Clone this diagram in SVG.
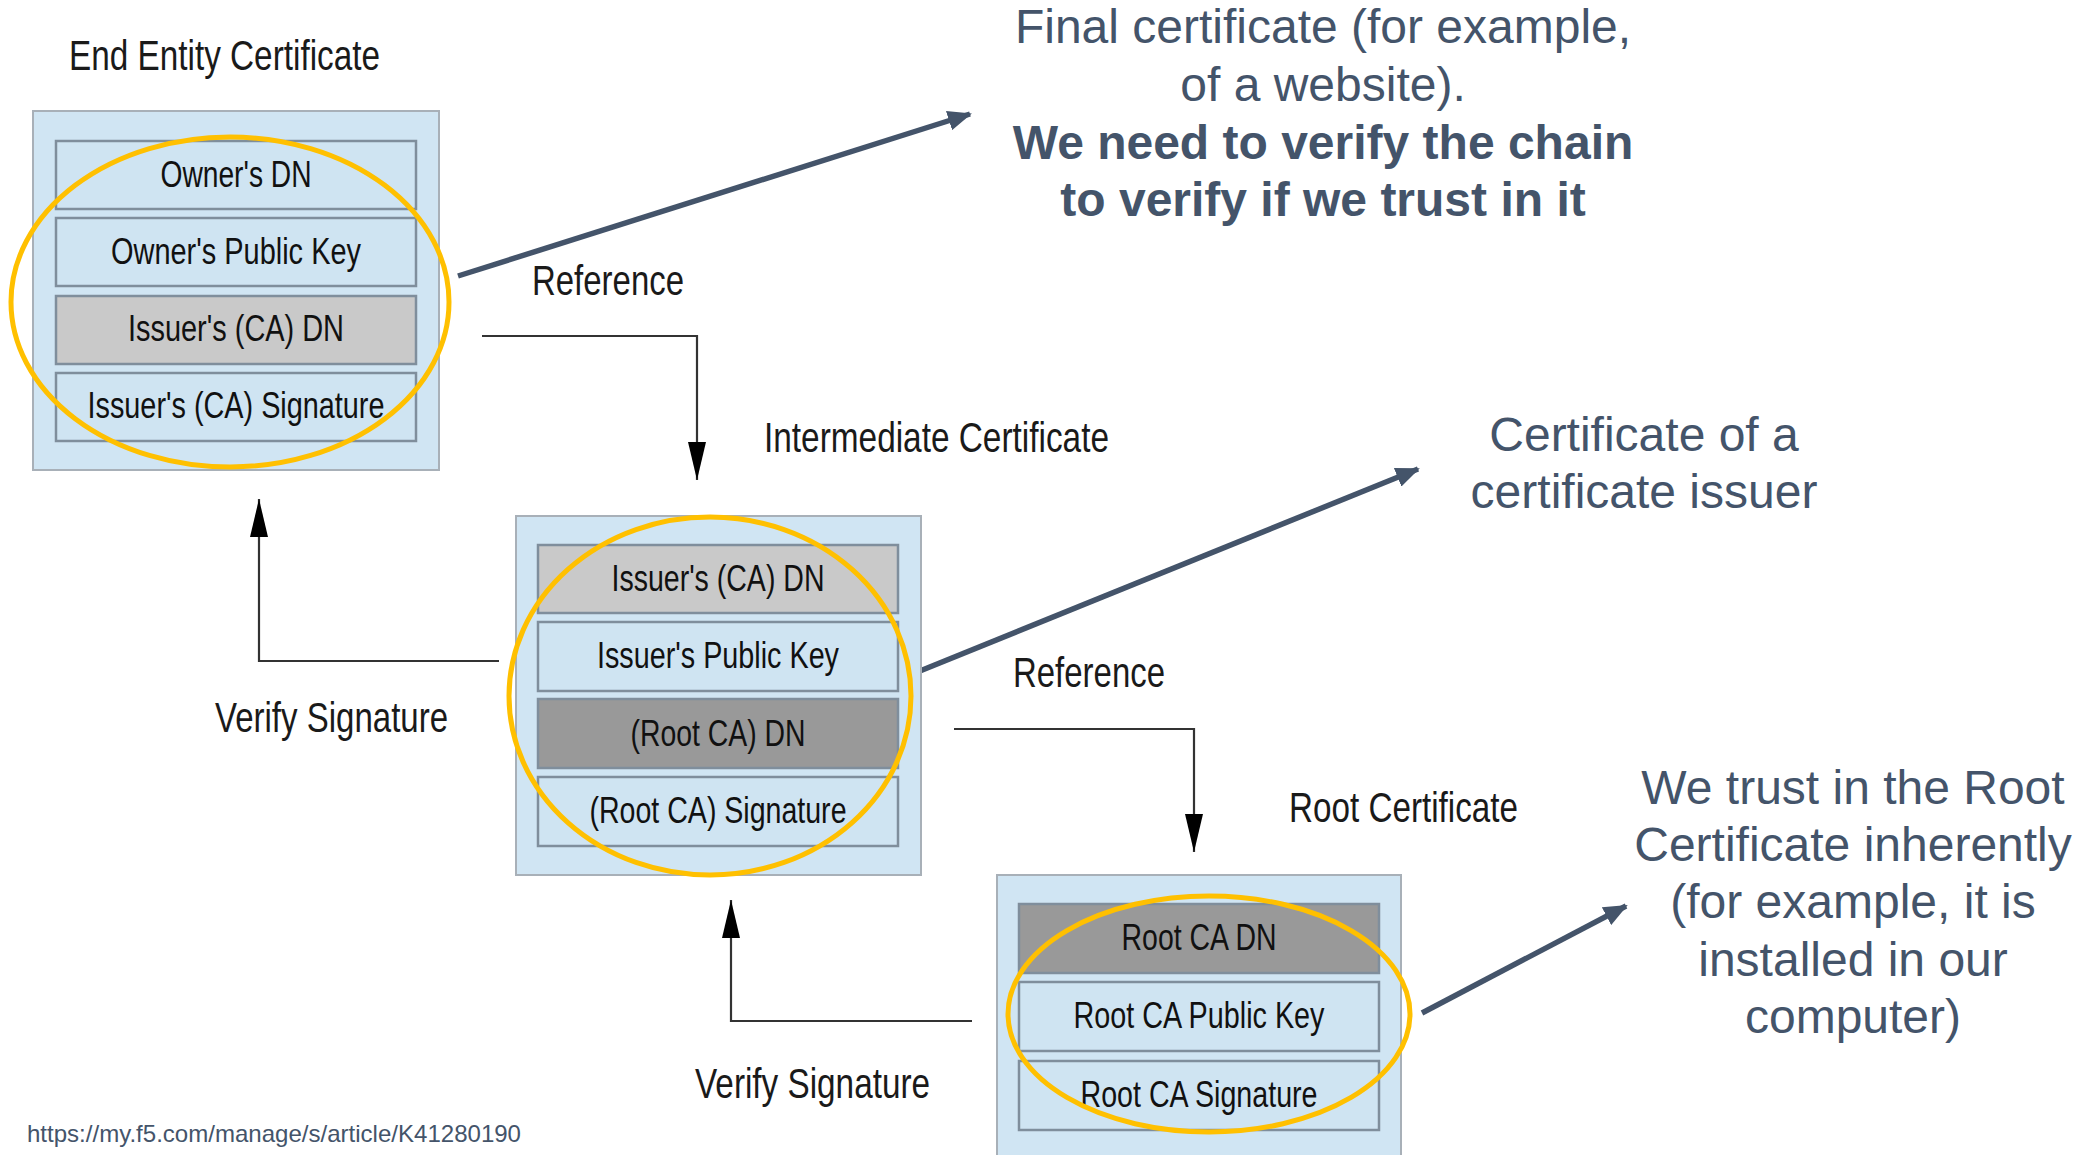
<svg xmlns="http://www.w3.org/2000/svg" width="2080" height="1155" viewBox="0 0 2080 1155">
<defs>
<style>
.bg{fill:#ffffff}
.outer{fill:#D0E5F3;stroke:#A8B0B8;stroke-width:2}
.row{stroke:#7F8E9C;stroke-width:2.5}
.lb{fill:#CFE4F2}
.lg{fill:#C9C9C9}
.dg{fill:#999999}
.hl{fill:none;stroke:#FFC000;stroke-width:5}
.rt{font-family:"Liberation Sans",Arial,sans-serif;font-size:36px;fill:#111111;text-anchor:middle}
.lab{font-family:"Liberation Sans",Arial,sans-serif;font-size:43px;fill:#1a1a1a}
.conn{fill:none;stroke:#333333;stroke-width:2.2}
.call{fill:none;stroke:#44546A;stroke-width:5.5}
.note{font-family:"Liberation Sans",Arial,sans-serif;font-size:48px;fill:#44546A;text-anchor:middle}
.b{font-weight:bold}
.url{font-family:"Liberation Sans",Arial,sans-serif;font-size:24px;fill:#44546A}
</style>
<marker id="blk" viewBox="0 0 38 18" refX="38" refY="9" markerWidth="38" markerHeight="18" markerUnits="userSpaceOnUse" orient="auto">
<path d="M0,0 L38,9 L0,18 Z" fill="#000000"/>
</marker>
<marker id="sl" viewBox="0 0 24 20" refX="22" refY="10" markerWidth="24" markerHeight="20" markerUnits="userSpaceOnUse" orient="auto">
<path d="M0,0 L24,10 L0,20 Z" fill="#44546A"/>
</marker>
</defs>
<rect class="bg" x="0" y="0" width="2080" height="1155"/>

<g id="connectors">
<polyline class="conn" points="482,336 697,336 697,480" marker-end="url(#blk)"/>
<polyline class="conn" points="954,729 1194,729 1194,852" marker-end="url(#blk)"/>
<polyline class="conn" points="499,661 259,661 259,499" marker-end="url(#blk)"/>
<polyline class="conn" points="972,1021 731,1021 731,900" marker-end="url(#blk)"/>
<line class="call" x1="458" y1="276" x2="970" y2="114" marker-end="url(#sl)"/>
<line class="call" x1="910" y1="675" x2="1418" y2="469" marker-end="url(#sl)"/>
<line class="call" x1="1422" y1="1013" x2="1626" y2="906" marker-end="url(#sl)"/>
</g>

<g id="labels">
<text class="lab" x="69" y="70" textLength="311" lengthAdjust="spacingAndGlyphs">End Entity Certificate</text>
<text class="lab" x="532" y="295" textLength="152" lengthAdjust="spacingAndGlyphs">Reference</text>
<text class="lab" x="764" y="452" textLength="345" lengthAdjust="spacingAndGlyphs">Intermediate Certificate</text>
<text class="lab" x="1013" y="687" textLength="152" lengthAdjust="spacingAndGlyphs">Reference</text>
<text class="lab" x="1289" y="822" textLength="229" lengthAdjust="spacingAndGlyphs">Root Certificate</text>
<text class="lab" x="215" y="732" textLength="233" lengthAdjust="spacingAndGlyphs">Verify Signature</text>
<text class="lab" x="695" y="1098" textLength="235" lengthAdjust="spacingAndGlyphs">Verify Signature</text>
</g>

<g id="end-entity-certificate">
<rect class="outer" x="33" y="111" width="406" height="359"/>
<rect class="row lb" x="56" y="141" width="360" height="68"/>
<rect class="row lb" x="56" y="218" width="360" height="68"/>
<rect class="row lg" x="56" y="296" width="360" height="68"/>
<rect class="row lb" x="56" y="373" width="360" height="68"/>
<text class="rt" x="236" y="187" textLength="151" lengthAdjust="spacingAndGlyphs">Owner's DN</text>
<text class="rt" x="236" y="264" textLength="250" lengthAdjust="spacingAndGlyphs">Owner's Public Key</text>
<text class="rt" x="236" y="341" textLength="216" lengthAdjust="spacingAndGlyphs">Issuer's (CA) DN</text>
<text class="rt" x="236" y="418" textLength="297" lengthAdjust="spacingAndGlyphs">Issuer's (CA) Signature</text>
<ellipse class="hl" cx="230" cy="302" rx="219" ry="165"/>
</g>

<g id="intermediate-certificate">
<rect class="outer" x="516" y="516" width="405" height="359"/>
<rect class="row lg" x="538" y="545" width="360" height="68"/>
<rect class="row lb" x="538" y="622" width="360" height="69"/>
<rect class="row dg" x="538" y="699" width="360" height="69"/>
<rect class="row lb" x="538" y="777" width="360" height="69"/>
<text class="rt" x="718" y="591" textLength="213" lengthAdjust="spacingAndGlyphs">Issuer's (CA) DN</text>
<text class="rt" x="718" y="668" textLength="242" lengthAdjust="spacingAndGlyphs">Issuer's Public Key</text>
<text class="rt" x="718" y="746" textLength="175" lengthAdjust="spacingAndGlyphs">(Root CA) DN</text>
<text class="rt" x="718" y="823" textLength="257" lengthAdjust="spacingAndGlyphs">(Root CA) Signature</text>
<ellipse class="hl" cx="710" cy="696" rx="201" ry="179"/>
</g>

<g id="root-certificate">
<rect class="outer" x="997" y="875" width="404" height="290"/>
<rect class="row dg" x="1019" y="904" width="360" height="69"/>
<rect class="row lb" x="1019" y="982" width="360" height="69"/>
<rect class="row lb" x="1019" y="1061" width="360" height="69"/>
<text class="rt" x="1199" y="950" textLength="155" lengthAdjust="spacingAndGlyphs">Root CA DN</text>
<text class="rt" x="1199" y="1028" textLength="251" lengthAdjust="spacingAndGlyphs">Root CA Public Key</text>
<text class="rt" x="1199" y="1107" textLength="237" lengthAdjust="spacingAndGlyphs">Root CA Signature</text>
<ellipse class="hl" cx="1209" cy="1014" rx="201" ry="118"/>
</g>

<g id="note-final">
<text class="note" x="1323" y="43">Final certificate (for example,</text>
<text class="note" x="1323" y="101">of a website).</text>
<text class="note b" x="1323" y="159">We need to verify the chain</text>
<text class="note b" x="1323" y="216">to verify if we trust in it</text>
</g>

<g id="note-issuer">
<text class="note" x="1644" y="451">Certificate of a</text>
<text class="note" x="1644" y="508">certificate issuer</text>
</g>

<g id="note-root">
<text class="note" x="1853" y="804">We trust in the Root</text>
<text class="note" x="1853" y="861">Certificate inherently</text>
<text class="note" x="1853" y="918">(for example, it is</text>
<text class="note" x="1853" y="976">installed in our</text>
<text class="note" x="1853" y="1033">computer)</text>
</g>

<text class="url" x="27" y="1142" textLength="494" lengthAdjust="spacingAndGlyphs">https://my.f5.com/manage/s/article/K41280190</text>
</svg>
